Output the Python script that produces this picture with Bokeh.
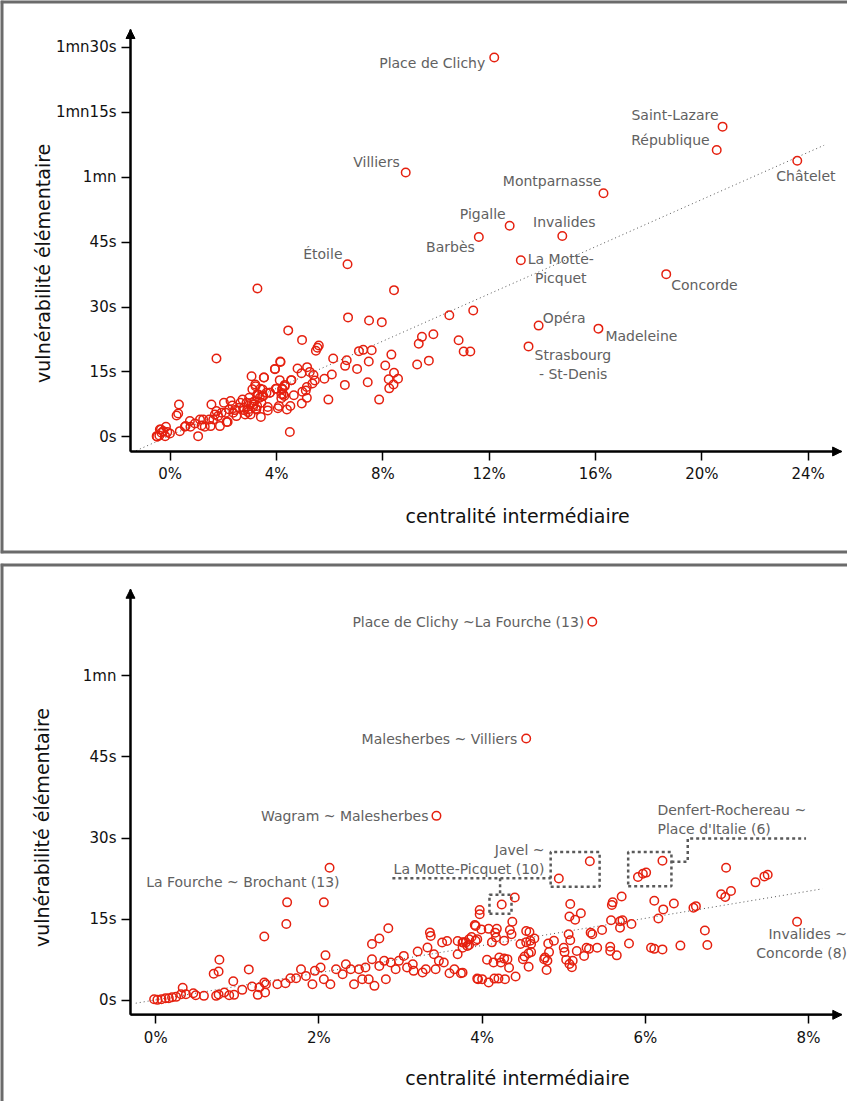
import math
from bokeh.plotting import figure
from bokeh.models import ColumnDataSource, FixedTicker, Arrow, NormalHead
from bokeh.layouts import column
from bokeh.embed import file_html
from bokeh.resources import INLINE
from bokeh.core.properties import value

FONT = "DejaVu Sans"
RED = "#e5200f"
LABEL_GRAY = "#616161"
FRAME_GRAY = "#6b6b6b"

# ---------------- TOP PANEL DATA (x: centralité %, y: vulnérabilité s) ----------------
top_named_labels = ["Place de Clichy", "Saint-Lazare", "République", "Châtelet", "Montparnasse",
                    "Pigalle", "Invalides", "Barbès", "La Motte-\nPicquet", "Villiers", "Étoile",
                    "Concorde", "Opéra", "Madeleine", "Strasbourg\n\u00a0- St-Denis"]
top_named_x = [12.19, 20.78, 20.56, 23.59, 16.30, 12.77, 14.75, 11.61, 13.19, 8.86, 6.67,
               18.66, 13.86, 16.11, 13.48]
top_named_y = [87.7, 71.7, 66.3, 63.8, 56.3, 48.8, 46.4, 46.2, 40.8, 61.1, 39.9,
               37.6, 25.7, 25.0, 20.9]

top_other_points = [
    (11.4, 29.2), (10.5, 28.1), (9.9, 23.7), (9.47, 23.1), (9.35, 21.5), (10.85, 22.3), (11.04, 19.7),
    (11.29, 19.7), (9.73, 17.6), (9.29, 16.7),
    (3.28, 34.3), (8.42, 33.9), (6.69, 27.6), (7.48, 26.9), (7.96, 26.5), (4.44, 24.6), (4.96, 22.4),
    (5.59, 21.1), (5.54, 20.6), (5.48, 19.9), (1.74, 18.1), (7.10, 19.8), (7.26, 20.1), (7.58, 20.0),
    (8.32, 19.0), (7.47, 17.4), (8.09, 16.5), (6.64, 17.7), (6.58, 16.4), (6.13, 18.1), (7.03, 15.7),
    (8.42, 14.8), (8.22, 13.3), (8.57, 13.4), (8.40, 12.1), (8.24, 11.2), (7.43, 12.6), (7.86, 8.6),
    (6.57, 12.0), (6.08, 14.4), (5.80, 13.4), (5.95, 8.6), (4.14, 17.4), (3.94, 15.7), (4.79, 15.8),
    (4.94, 14.7), (5.15, 16.1), (5.25, 15.0), (5.39, 14.3), (5.44, 13.0), (5.35, 12.3), (5.14, 11.5),
    (5.10, 10.7), (4.97, 10.4), (5.14, 9.0), (4.95, 7.7), (4.55, 13.1), (4.12, 13.1), (4.31, 12.0),
    (4.21, 11.0), (4.18, 9.9), (4.65, 9.6), (4.52, 7.1), (4.09, 7.1), (4.05, 6.6), (4.39, 6.3),
    (4.50, 1.1), (3.41, 4.6), (3.67, 6.9), (3.67, 6.1), (3.06, 14.0), (3.53, 13.7), (3.20, 12.1),
    (3.09, 11.0), (3.39, 11.1), (3.28, 9.8), (3.46, 9.4), (3.75, 10.2), (3.97, 11.1), (4.31, 11.7),
    (4.25, 9.8), (4.18, 8.9),
    (-0.51, 0.15), (-0.41, 0.31), (-0.33, 0.93), (-0.16, 2.31), (-0.11, 1.08), (-0.01, 0.77),
    (0.24, 4.94), (0.33, 7.48), (0.30, 5.40), (0.36, 1.31), (0.55, 2.31), (0.74, 3.63), (0.76, 2.31),
    (0.93, 3.09), (1.05, 0.15), (1.12, 4.01), (1.18, 2.62), (1.30, 2.31), (1.47, 4.01), (1.55, 7.48),
    (1.52, 2.47), (1.62, 4.01), (1.68, 5.17), (1.74, 5.94), (1.80, 4.78), (1.87, 2.47), (1.93, 5.56),
    (2.02, 7.87), (2.09, 5.56), (2.16, 3.40), (2.22, 6.33), (2.27, 8.26), (2.34, 7.25), (2.43, 6.17),
    (2.49, 4.78), (2.59, 6.71), (2.64, 7.87), (2.72, 8.64), (2.77, 6.17), (2.82, 5.17), (2.87, 7.87),
    (2.93, 6.33), (2.97, 9.03), (3.02, 5.17), (3.06, 7.87), (3.12, 6.94), (3.18, 8.26), (3.22, 6.48),
    (3.27, 7.10), (3.37, 9.03), (3.43, 7.87), (3.50, 9.41), (-0.49, 0.0), (-0.39, 1.70), (-0.26, 1.31),
    (-0.19, 0.15),
    (-0.35, 1.70), (0.58, 2.47), (1.24, 4.01), (2.12, 3.40), (2.37, 5.56), (2.77, 6.71), (2.93, 5.71),
    (3.24, 6.33), (3.12, 7.48), (3.62, 10.19), (3.75, 10.19), (4.00, 11.1), (4.22, 11.1), (4.29, 9.41),
    (3.47, 10.96), (3.31, 9.8), (3.21, 11.7), (3.52, 13.7), (4.15, 17.3), (3.94, 15.6), (4.56, 13.1),
]
top_trend_x = [-1.28, 24.6]
top_trend_y = [-3.2, 67.4]

top_xticks = [0, 4, 8, 12, 16, 20, 24]
top_xtick_labels = ["0%", "4%", "8%", "12%", "16%", "20%", "24%"]
top_yticks = [0, 15, 30, 45, 60, 75, 90]
top_ytick_labels = ["0s", "15s", "30s", "45s", "1mn", "1mn15s", "1mn30s"]

# ---------------- BOTTOM PANEL DATA ----------------
bot_named_labels = ["Place de Clichy ~La Fourche (13)", "Malesherbes ~ Villiers",
                    "Wagram ~ Malesherbes", "La Fourche ~ Brochant (13)", "Invalides ~\nConcorde (8)"]
bot_named_x = [5.35, 4.54, 3.44, 2.13, 7.86]
bot_named_y = [70.0, 48.4, 34.1, 24.5, 14.5]

bot_boxed_points = [(4.24, 17.7), (5.32, 25.7), (4.94, 22.5), (6.21, 25.8), (5.91, 22.8),
                    (5.97, 23.4), (6.01, 23.6)]

bot_other_points = [
    (1.61, 18.1), (2.06, 18.1), (1.60, 14.1), (1.33, 11.8), (2.85, 13.3), (2.74, 11.4), (2.65, 10.4),
    (2.08, 8.3), (0.78, 7.5), (0.77, 5.3), (0.71, 4.9), (1.14, 5.7), (0.95, 3.5), (0.33, 2.3),
    (-0.02, 0.19), (0.02, 0.07), (0.07, 0.19), (0.12, 0.38), (0.16, 0.38), (0.20, 0.56), (0.25, 0.62),
    (0.31, 1.11), (0.37, 1.11), (0.46, 1.30), (0.49, 0.93), (0.59, 0.81), (0.74, 0.81), (0.77, 1.05),
    (0.84, 1.42), (0.90, 0.93), (0.96, 0.99), (1.06, 1.92), (1.18, 2.53), (1.25, 0.99), (1.27, 2.35),
    (1.33, 3.27), (1.34, 1.42), (1.35, 2.96), (1.49, 2.96), (1.59, 3.15), (1.65, 4.07), (1.72, 4.07),
    (1.78, 5.74), (1.84, 4.50), (1.92, 2.96), (1.95, 5.43), (2.02, 6.04), (2.06, 3.89), (2.14, 2.96),
    (2.21, 5.74), (2.29, 4.81), (2.33, 6.66), (2.39, 5.74), (2.43, 2.96), (2.49, 5.74), (2.53, 3.89),
    (2.57, 6.04), (2.61, 3.89), (2.65, 7.58), (2.68, 2.66), (2.74, 6.35), (2.80, 7.28), (2.82, 3.89),
    (2.88, 6.97), (2.94, 5.74), (2.98, 7.28), (3.04, 8.20), (3.08, 6.04), (3.15, 6.66), (3.16, 5.43),
    (3.21, 9.00), (3.27, 5.12), (3.31, 5.74), (3.33, 9.74), (3.36, 12.51), (3.37, 11.90), (3.41, 8.51),
    (3.43, 5.74), (3.47, 7.28), (3.51, 10.67), (3.53, 6.97), (3.57, 10.97), (3.60, 5.00), (3.66, 5.74),
    (3.70, 8.51), (3.74, 5.00), (3.70, 10.97), (3.76, 10.67), (3.82, 10.05), (3.84, 11.28), (3.92, 13.75),
    (3.97, 16.70), (3.97, 15.90), (3.95, 3.89),
    (4.40, 19.0), (4.37, 14.5), (3.91, 13.9), (3.99, 13.1), (4.08, 13.2), (4.18, 13.2), (4.34, 13.0),
    (4.36, 12.2), (4.54, 12.8), (4.58, 12.6), (4.64, 11.4), (4.59, 11.0), (4.54, 10.7), (4.47, 10.4),
    (4.60, 10.4), (4.27, 11.0), (4.16, 12.5), (4.17, 11.6), (3.87, 11.7), (3.94, 11.3), (3.92, 11.0),
    (3.80, 10.7), (3.84, 10.2), (3.76, 9.7), (3.77, 10.7), (4.12, 10.7), (4.57, 8.7), (4.60, 8.9),
    (4.06, 7.5), (4.14, 7.0), (4.21, 7.9), (4.27, 7.7), (4.31, 7.6), (4.33, 6.0), (4.23, 7.0),
    (4.52, 8.1), (4.50, 7.6), (4.57, 6.2), (4.41, 4.4), (3.76, 5.1), (3.94, 4.0), (4.00, 3.9),
    (4.08, 3.3), (4.15, 4.0), (4.20, 4.0), (4.28, 3.9), (4.81, 10.5), (4.88, 11.0), (4.82, 8.9),
    (4.76, 7.6), (4.80, 7.3), (4.77, 7.9), (4.79, 5.6), (5.00, 9.7), (5.01, 8.9), (5.06, 12.2),
    (5.08, 11.1), (5.03, 7.5), (5.07, 6.7), (5.10, 6.1), (5.11, 7.3), (5.08, 17.8), (5.14, 14.9),
    (5.07, 15.5), (5.21, 16.1), (5.16, 9.1), (5.25, 8.2), (5.28, 9.7), (5.31, 9.5), (5.33, 12.5),
    (5.35, 12.2), (5.41, 9.7), (5.47, 13.0), (5.57, 9.9), (5.57, 9.1), (5.65, 8.3), (5.58, 14.8),
    (5.69, 14.6), (5.72, 14.8), (5.83, 14.1), (5.69, 13.4), (5.60, 18.1), (5.59, 17.6), (5.71, 19.2),
    (5.80, 10.5), (6.07, 9.7), (6.11, 9.5), (6.21, 9.4), (6.43, 10.1), (6.76, 10.2), (6.11, 18.4),
    (6.22, 16.8), (6.16, 15.1), (6.35, 17.9), (6.59, 17.1), (6.62, 17.4), (6.73, 12.9), (6.93, 19.6),
    (6.98, 19.1), (7.05, 20.2), (6.99, 24.5), (7.35, 21.8), (7.46, 22.9), (7.50, 23.2),
]
bot_trend_x = [-0.245, 8.17]
bot_trend_y = [-0.55, 20.6]

bot_xticks = [0, 2, 4, 6, 8]
bot_xtick_labels = ["0%", "2%", "4%", "6%", "8%"]
bot_yticks = [0, 15, 30, 45, 60]
bot_ytick_labels = ["0s", "15s", "30s", "45s", "1mn"]

# annotation boxes / leaders of the bottom panel (data coordinates)
bot_box_paths = [
    ([4.09, 4.36, 4.36, 4.09, 4.09], [16.0, 16.0, 19.5, 19.5, 16.0]),
    ([4.84, 5.44, 5.44, 4.84, 4.84], [21.0, 21.0, 27.4, 27.4, 21.0]),
    ([5.79, 6.32, 6.32, 5.79, 5.79], [21.1, 21.1, 27.4, 27.4, 21.1]),
    ([2.90, 4.84], [22.55, 22.55]),
    ([4.22, 4.22], [22.55, 19.5]),
    ([6.32, 6.52, 6.52, 7.97], [25.6, 25.6, 29.9, 29.9]),
]
bot_box_texts = ["Javel ~\nLa Motte-Picquet (10)", "Denfert-Rochereau ~\nPlace d'Italie (6)"]

# ---------------- label styling (alignment, pixel offsets) ----------------
top_label_style = [("right", -9, 6), ("right", -4, -12), ("right", -7, -10), ("left", -21, 15),
                   ("right", -2, -12), ("right", -4, -12), ("center", 2, -14), ("right", -4, 10),
                   ("center", 40, 8), ("right", -6, -10), ("right", -5, -10), ("left", 5, 11),
                   ("left", 4, -8), ("left", 7, 7), ("left", 6, 18)]
bot_label_style = [("right", -8, 0), ("right", -9, 0), ("right", -8, 0), ("right", 10, 14),
                   ("right", 50, 22)]
bot_box_text_style = [((4.764, 26.02), "right"), ((6.149, 33.38), "left")]


def add_labels(p, xs, ys, texts, styles):
    for align in ("left", "right", "center"):
        idx = [i for i, s in enumerate(styles) if s[0] == align]
        if not idx:
            continue
        src = ColumnDataSource(dict(x=[xs[i] for i in idx], y=[ys[i] for i in idx],
                                    t=[texts[i] for i in idx],
                                    dx=[styles[i][1] for i in idx], dy=[styles[i][2] for i in idx]))
        p.text(x="x", y="y", text="t", source=src, x_offset="dx", y_offset="dy",
               text_align=align, text_baseline="middle", text_font=value(FONT),
               text_font_size="14px", text_color=LABEL_GRAY, text_line_height=1.17)


def build_panel(height, min_bottom, xr, yr, axis_x, axis_y, x_tip, y_tip,
                xticks, xlabels, yticks, ylabels, bottom_border, titles):
    p = figure(width=847, height=height, x_range=xr, y_range=yr,
               output_backend="svg", toolbar_location=None,
               min_border_left=0, min_border_right=0, min_border_top=0,
               min_border_bottom=min_bottom)
    p.grid.visible = False
    p.outline_line_color = None
    p.background_fill_color = "white"
    p.border_fill_color = "white"

    xa = p.xaxis[0]
    ya = p.yaxis[0]
    xa.fixed_location = axis_y
    ya.fixed_location = axis_x
    xa.bounds = (axis_x, x_tip)
    ya.bounds = (axis_y, y_tip)
    xa.ticker = FixedTicker(ticks=xticks)
    ya.ticker = FixedTicker(ticks=yticks)
    xa.major_label_overrides = dict(zip(xticks, xlabels))
    ya.major_label_overrides = dict(zip(yticks, ylabels))
    for ax in (xa, ya):
        ax.axis_line_color = "black"
        ax.axis_line_width = 2
        ax.major_tick_line_color = "black"
        ax.major_tick_line_width = 1.5
        ax.major_tick_out = 9
        ax.major_tick_in = 0
        ax.minor_tick_line_color = None
        ax.major_label_text_font = FONT
        ax.major_label_text_font_size = "15px"
        ax.major_label_text_color = "#111111"
        ax.major_label_standoff = 5

    head = dict(size=9, fill_color="black", line_color="black", line_width=1)
    p.add_layout(Arrow(end=NormalHead(**head), x_start=axis_x, y_start=axis_y,
                       x_end=x_tip, y_end=axis_y, line_color="black", line_width=2))
    p.add_layout(Arrow(end=NormalHead(**head), x_start=axis_x, y_start=axis_y,
                       x_end=axis_x, y_end=y_tip, line_color="black", line_width=2))

    # panel frame (left, top, optional bottom)
    x0, x1 = xr
    y0, y1 = yr
    bx0 = [x0, x0]
    by0 = [y0, y1]
    bx1 = [x0, x1]
    by1 = [y1, y1]
    if bottom_border:
        bx0.append(x0); by0.append(y0); bx1.append(x1); by1.append(y0)
    p.segment(x0=bx0, y0=by0, x1=bx1, y1=by1, line_color=FRAME_GRAY, line_width=6)

    # axis titles
    (ytx, yty), (xtx, xty) = titles
    p.text(x=[ytx], y=[yty], text=["vulnérabilité élémentaire"], angle=math.pi / 2,
           text_align="center", text_baseline="middle", text_font=value(FONT),
           text_font_size="19px", text_color="#111111")
    p.text(x=[xtx], y=[xty], text=["centralité intermédiaire"],
           text_align="center", text_baseline="middle", text_font=value(FONT),
           text_font_size="19px", text_color="#111111")
    return p


# ---------------- TOP ----------------
p1 = build_panel(563, 10, (-6.385, 25.48), (-26.98, 100.86), -1.494, -3.40, 25.26, 94.15,
                 top_xticks, top_xtick_labels, top_yticks, top_ytick_labels, True,
                 ((-4.80, 40.1), (13.07, -18.26)))
p1.line(top_trend_x, top_trend_y, line_color="#555555", line_width=1, line_dash="1 3")
p1.scatter([pt[0] for pt in top_other_points], [pt[1] for pt in top_other_points],
           marker="circle", size=8.5, fill_color=None, line_color=RED, line_width=1.5)
p1.scatter(top_named_x, top_named_y, marker="circle", size=8.5, fill_color=None,
           line_color=RED, line_width=1.5)
add_labels(p1, top_named_x, top_named_y, top_named_labels, top_label_style)

# ---------------- BOTTOM ----------------
p2 = build_panel(538, 0, (-1.903, 8.478), (-18.73, 80.77), -0.310, -2.70, 8.408, 76.01,
                 bot_xticks, bot_xtick_labels, bot_yticks, bot_ytick_labels, False,
                 ((-1.389, 31.94), (4.433, -14.30)))
p2.line(bot_trend_x, bot_trend_y, line_color="#555555", line_width=1, line_dash="1 3")
p2.multi_line([b[0] for b in bot_box_paths], [b[1] for b in bot_box_paths],
              line_color="#5a5a5a", line_width=2.5, line_dash="3 3")
p2.scatter([pt[0] for pt in bot_other_points], [pt[1] for pt in bot_other_points],
           marker="circle", size=8.5, fill_color=None, line_color=RED, line_width=1.5)
p2.scatter([pt[0] for pt in bot_boxed_points], [pt[1] for pt in bot_boxed_points],
           marker="circle", size=8.5, fill_color=None, line_color=RED, line_width=1.5)
p2.scatter(bot_named_x, bot_named_y, marker="circle", size=8.5, fill_color=None,
           line_color=RED, line_width=1.5)
add_labels(p2, bot_named_x, bot_named_y, bot_named_labels, bot_label_style)
for text, ((tx, ty), align) in zip(bot_box_texts, bot_box_text_style):
    p2.text(x=[tx], y=[ty], text=[text], text_align=align, text_baseline="middle",
            text_font=value(FONT), text_font_size="14px", text_color=LABEL_GRAY,
            text_line_height=1.17)

layout = column(p1, p2, spacing=0)
open("out.html", "w").write(file_html(layout, INLINE))
